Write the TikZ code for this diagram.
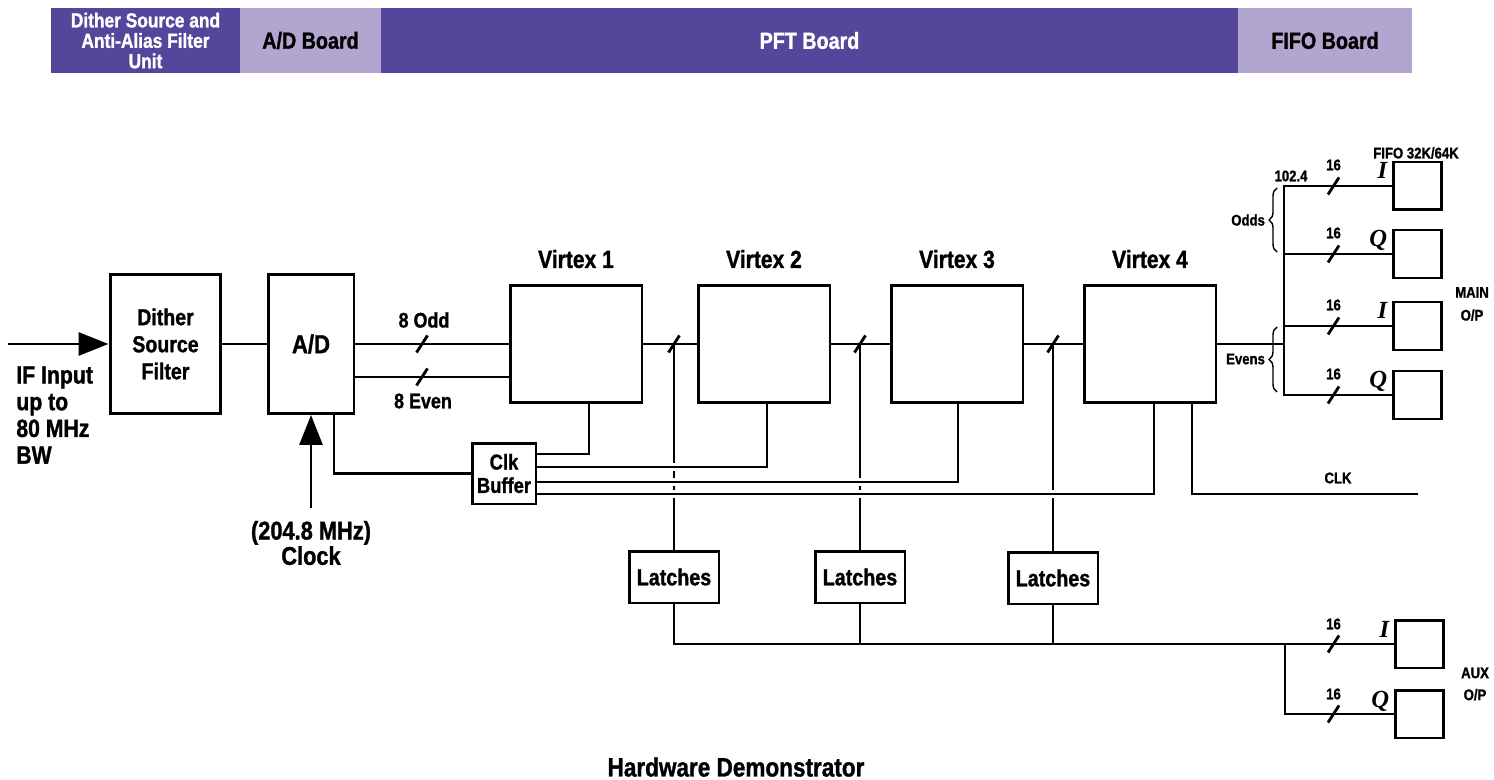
\documentclass[tikz,border=0pt]{standalone}
\usepackage{fontspec}
\setmainfont{Liberation Sans}[FakeStretch=0.85, FakeBold=1.2]
\newfontfamily\iqfont{Liberation Serif}
\usetikzlibrary{arrows.meta, positioning, decorations.pathreplacing, calc}
\definecolor{bandDark}{RGB}{85,69,155}
\definecolor{bandLight}{RGB}{178,166,208}
\newcommand\setfs[2]{\fontsize{#1}{#2}\selectfont}

\begin{document}
\begin{tikzpicture}[x=0.02cm, y=-0.02cm,
    band/.style={inner sep=0pt, minimum height=1.3cm, align=center, font=\bfseries\setfs{13.2}{14}},
    box/.style={draw, line width=1.7pt, inner sep=0pt, align=center, font=\bfseries},
    vtx/.style={box, minimum width=2.64cm, minimum height=2.34cm},
    latch/.style={box, minimum width=1.8cm, minimum height=1.04cm, font=\bfseries\setfs{13.2}{14}},
    fifo/.style={box, minimum width=0.96cm, minimum height=0.96cm},
    wire/.style={line width=1.6pt},
    clkwire/.style={line width=1.4pt, preaction={draw, white, line width=4.5pt}},
    bigarrow/.style={line width=1.7pt, -{Triangle[length=0.6cm, width=0.46cm]}},
    title/.style={font=\bfseries\setfs{14.1}{15}, inner sep=0pt},
    tag/.style={font=\bfseries\setfs{8.8}{10}, align=center, inner sep=1pt},
    iq/.style={font=\iqfont\bfseries\itshape\setfs{14}{14}, inner sep=0pt, anchor=base east},
    bus slash/.pic={\draw[line width=1.6pt] (-5.5,8.5) -- (5.5,-8.5);},
    brace/.style={decorate, decoration={brace, amplitude=0.16cm}, line width=0.8pt},
]

\useasboundingbox (0,0) rectangle (1494,780);

% board bands along the top
\node[band, fill=bandDark, text=white, minimum width=3.78cm, font=\bfseries\setfs{11.6}{11.6}] (bDither) at (145.5,40.5) {Dither Source and\\Anti-Alias Filter\\Unit};
\node[band, fill=bandLight, minimum width=2.82cm] (bAD) at (310.5,40.5) {A/D Board};
\node[band, fill=bandDark, text=white, minimum width=17.14cm] (bPFT) at (809.5,40.5) {PFT Board};
\node[band, fill=bandLight, minimum width=3.48cm] (bFIFO) at (1325,40.5) {FIFO Board};

% front end
\node[box, minimum width=2.22cm, minimum height=2.78cm, font=\bfseries\setfs{13.1}{15.4}] (dsf) at (165.5,344) {Dither\\Source\\Filter};
\node[box, minimum width=1.72cm, minimum height=2.78cm, font=\bfseries\setfs{14.8}{16}] (ad) at (311,344) {A/D};
\node[box, minimum width=1.28cm, minimum height=1.22cm, font=\bfseries\setfs{12.3}{13.3}] (clkbuf) at (504,473.5) {Clk\\Buffer};

\coordinate (ifin) at (8,344);
\draw[bigarrow] (ifin) -- (dsf.west);
\node[font=\bfseries\setfs{14.2}{15.2}, align=left, anchor=north west, inner sep=0pt] (iflbl) at (16,366) {IF Input\\up to\\80 MHz\\BW};

\coordinate (clkin) at (311,508);
\draw[bigarrow] (clkin) -- (ad.south);
\node[font=\bfseries\setfs{14.6}{14.4}, align=center] (clklbl) at (311,543) {(204.8 MHz)\\Clock};

\draw[wire] (dsf.east) -- (ad.west);
\draw[wire] ([xshift=0.46cm]ad.south) |- (clkbuf.west);

% Virtex chain
\node[vtx] (v1) at (576,344) {};
\node[vtx] (v2) at (764,344) {};
\node[vtx] (v3) at (957,344) {};
\node[vtx] (v4) at (1150,344) {};
\foreach \n in {1,...,4}
    \node[title, above=0.31cm of v\n] (t\n) {Virtex \n};

\draw[wire] (ad.east) -- (v1.west);
\draw[wire] ([yshift=-0.66cm]ad.east) -- ([yshift=-0.66cm]v1.west);
\pic at (422,344) {bus slash};
\pic at (422,377) {bus slash};
\node[font=\bfseries\setfs{12}{13}] (oddlbl) at (424,320) {8 Odd};
\node[font=\bfseries\setfs{12}{13}] (evenlbl) at (423,401) {8 Even};

\draw[wire] (v1.east) -- (v2.west);
\draw[wire] (v2.east) -- (v3.west);
\draw[wire] (v3.east) -- (v4.west);

% latches tapped off the chain
\node[latch] (lat1) at (674,577) {Latches};
\node[latch] (lat2) at (860,577) {Latches};
\node[latch] (lat3) at (1053,578) {Latches};
\foreach \l/\v in {lat1/v1, lat2/v2, lat3/v3} {
    \draw[wire] (\l.north |- \v.east) -- (\l.north);
    \pic at (\l.north |- \v.east) {bus slash};
}

% clock distribution
\draw[clkwire] ([yshift=0.39cm]clkbuf.east) -| ([xshift=0.26cm]v1.south);
\draw[clkwire] ([yshift=0.13cm]clkbuf.east) -| ([xshift=0.06cm]v2.south);
\draw[clkwire] ([yshift=-0.17cm]clkbuf.east) -| ([xshift=0.02cm]v3.south);
\draw[clkwire] ([yshift=-0.41cm]clkbuf.east) -| ([xshift=0.08cm]v4.south);
\coordinate (clkout) at (1418,494);
\draw[wire, line width=1.4pt] ([xshift=0.84cm]v4.south) |- (clkout);
\node[tag] (clktag) at (1338,478) {CLK};

% main output FIFOs
\node[fifo] (fI1) at (1417,186) {};
\node[fifo] (fQ1) at (1417,254) {};
\node[fifo] (fI2) at (1417,326) {};
\node[fifo] (fQ2) at (1417,395) {};
\coordinate (split) at (1284,344);
\draw[wire] (v4.east) -- (split);
\draw[wire] (fI1.west) -| (split);
\draw[wire] (fQ2.west) -| (split);
\draw[wire] (fQ1.west) -- (fQ1.west -| split);
\draw[wire] (fI2.west) -- (fI2.west -| split);
\foreach \f/\q in {fI1/I, fQ1/Q, fI2/I, fQ2/Q} {
    \pic at ($(\f.west)+(-58,0)$) {bus slash};
    \node[tag] (w\f) at ($(\f.west)+(-58,-21)$) {16};
    \node[iq] (q\f) at ($(\f.west)+(-4,-7)$) {\q};
}
\node[tag] (fifotag) at (1416,153) {FIFO 32K/64K};
\node[tag] (ratetag) at (1291,176) {102.4};
\draw[brace] (1277,252) -- (1277,188);
\node[tag, anchor=east] (oddstag) at (1267,220) {Odds};
\draw[brace] (1277,392) -- (1277,327);
\node[tag, anchor=east] (evenstag) at (1267,359) {Evens};
\node[tag, font=\bfseries\setfs{8.8}{13}] (maintag) at (1472,304) {MAIN\\O/P};

% auxiliary output FIFOs
\node[fifo] (aI) at (1419,644) {};
\node[fifo] (aQ) at (1419,714) {};
\coordinate (auxsplit) at (1285,644);
\draw[wire] (lat1.south) |- (aI.west);
\draw[wire] (lat2.south) -- (lat2.south |- aI.west);
\draw[wire] (lat3.south) -- (lat3.south |- aI.west);
\draw[wire] (aQ.west) -| (auxsplit);
\foreach \f/\q in {aI/I, aQ/Q} {
    \pic at ($(\f.west)+(-60,0)$) {bus slash};
    \node[tag] (w\f) at ($(\f.west)+(-60,-20)$) {16};
    \node[iq] (q\f) at ($(\f.west)+(-4,-7)$) {\q};
}
\node[tag, font=\bfseries\setfs{8.8}{12.5}] (auxtag) at (1475,684) {AUX\\O/P};

\node[font=\bfseries\setfs{15.1}{16}] (hwtitle) at (736,767) {Hardware Demonstrator};
\end{tikzpicture}
\end{document}
